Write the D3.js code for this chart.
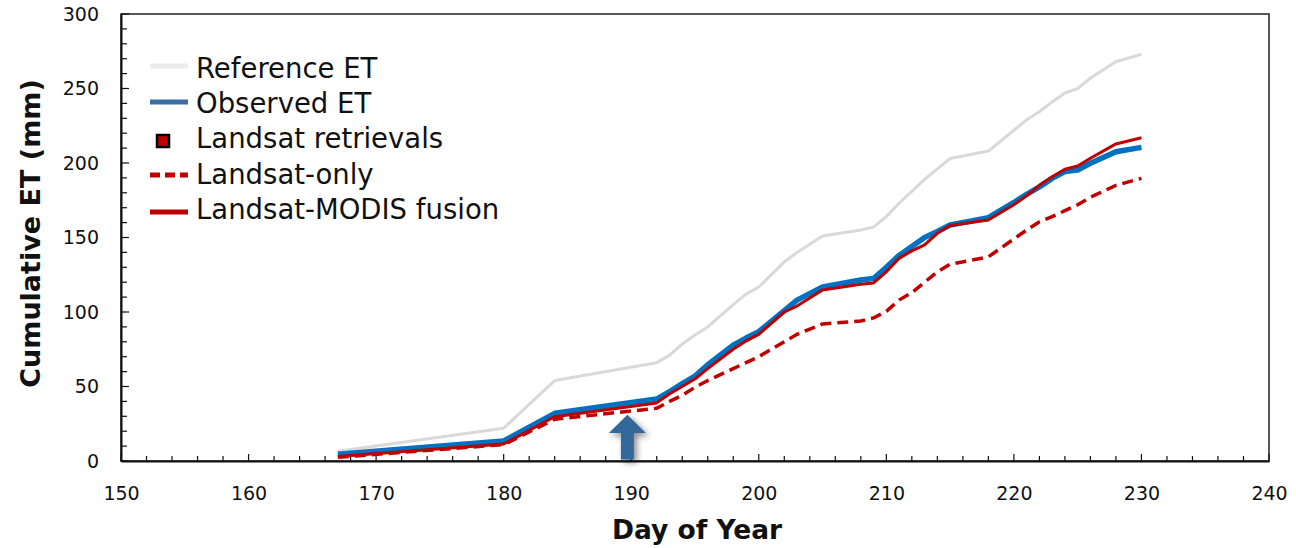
<!DOCTYPE html>
<html>
<head>
<meta charset="utf-8">
<script src="https://cdn.jsdelivr.net/npm/d3@7"></script>
<style>
  html, body { margin: 0; padding: 0; background: #fff; }
  svg { display: block; }
  text { font-family: "DejaVu Sans", sans-serif; }
</style>
</head>
<body>
<svg id="chart" width="1296" height="548"></svg>
<script>
// Day-of-year sample points
const days = [167, 180, 184, 192, 193, 194, 195, 196, 198, 199, 200, 202, 203, 205, 208, 209,
              210, 211, 212, 213, 214, 215, 218, 220, 221, 222, 223, 224, 225, 226, 228, 230];

// Cumulative ET (mm)
const referenceET = [6.5, 22, 54, 66, 71, 78.5, 84.6, 90, 105, 112, 116.8, 133.6, 140, 151, 155, 157,
                     164, 173, 181, 189, 196, 203, 208, 222, 229, 234.4, 241, 247, 250, 257, 268, 273];
const observedET  = [4.5, 13.4, 32, 41.6, 46.5, 52, 57, 64.6, 77.8, 82.5, 86.8, 101, 108, 116.8, 121.5, 122.5,
                     130, 138, 144, 150, 154, 158.4, 163.3, 173.5, 179, 184, 189.7, 194.2, 195.3, 199.8, 207.6, 210.5];
const landsatOnly = [2.5, 11, 28, 35.4, 40, 44, 49.5, 54, 62, 66, 70, 80, 85, 92, 94, 96,
                     100.5, 108, 113, 120, 127, 132, 137, 149, 155, 160.6, 164, 168, 172, 177, 185, 189.7];
const fusion      = [3, 11.4, 29.7, 39, 45, 50, 55, 62, 75, 80.5, 85, 100, 104, 114.8, 118.6, 119.5,
                     127, 136, 141, 145, 152.8, 158, 161.7, 172, 178, 185, 190.8, 195.8, 198, 203.2, 212.8, 217];

// Axis ranges and labels
const xDomain = [150, 240];
const yDomain = [0, 300];
const xTicks = [150, 160, 170, 180, 190, 200, 210, 220, 230, 240];
const yTicks = [0, 50, 100, 150, 200, 250, 300];
const xTitle = "Day of Year";
const yTitle = "Cumulative ET (mm)";

// Arrow marker location (day, ET tip)
const arrowDay = 189.7;
const arrowTip = 31;
const arrowHeadBase = 18.8;

const legendLabels = ["Reference ET", "Observed ET", "Landsat retrievals", "Landsat-only", "Landsat-MODIS fusion"];

const colors = { ref: "#d9d9d9", obs: "#0070c0", obsKey: "#3a6ea5", red: "#c00000" };

const svg = d3.select("#chart");
const m = { left: 121, right: 1269, top: 14, bottom: 461 };

const x = d3.scaleLinear().domain(xDomain).range([m.left, m.right]);
const y = d3.scaleLinear().domain(yDomain).range([m.bottom, m.top]);

// frame
svg.append("rect")
  .attr("x", m.left).attr("y", m.top)
  .attr("width", m.right - m.left).attr("height", m.bottom - m.top)
  .attr("fill", "none").attr("stroke", "#222").attr("stroke-width", 1.5);

// x minor ticks (every 2 days), drawn inward
const xMinor = d3.range(xDomain[0], xDomain[1] + 1, 2);
svg.append("g").selectAll("line").data(xMinor).join("line")
  .attr("x1", d => x(d)).attr("x2", d => x(d))
  .attr("y1", m.bottom).attr("y2", d => m.bottom - (d % 10 === 0 ? 7 : 5))
  .attr("stroke", "#111").attr("stroke-width", 1.2);

// y minor ticks (every 10 mm), drawn inward
const yMinor = d3.range(yDomain[0], yDomain[1] + 1, 10);
svg.append("g").selectAll("line").data(yMinor).join("line")
  .attr("x1", m.left).attr("x2", d => m.left + (d % 50 === 0 ? 8 : 6))
  .attr("y1", d => y(d)).attr("y2", d => y(d))
  .attr("stroke", "#111").attr("stroke-width", 1.2);

// axes with labels
const xAxis = d3.axisBottom(x).tickValues(xTicks).tickSize(0).tickPadding(26);
svg.append("g").attr("transform", `translate(0,${m.bottom})`).call(xAxis)
  .call(g => g.select(".domain").attr("stroke", "#111").attr("stroke-width", 2))
  .call(g => g.selectAll("text").attr("font-size", 19).attr("fill", "#111")
    .attr("font-family", "DejaVu Sans, sans-serif"));

const yAxis = d3.axisLeft(y).tickValues(yTicks).tickSize(0).tickPadding(22);
svg.append("g").attr("transform", `translate(${m.left},0)`).call(yAxis)
  .call(g => g.select(".domain").attr("stroke", "#111").attr("stroke-width", 2))
  .call(g => g.selectAll("text").attr("font-size", 19).attr("fill", "#111")
    .attr("font-family", "DejaVu Sans, sans-serif"));

// titles
svg.append("text")
  .attr("x", (m.left + m.right) / 2 + 2).attr("y", 539)
  .attr("text-anchor", "middle").attr("font-size", 26.5).attr("font-weight", "bold")
  .attr("fill", "#111").text(xTitle);
svg.append("text")
  .attr("transform", `translate(40,${(m.top + m.bottom) / 2 - 4}) rotate(-90)`)
  .attr("text-anchor", "middle").attr("font-size", 27).attr("font-weight", "bold")
  .attr("fill", "#111").text(yTitle);

// series lines
const line = vals => d3.line().x((d, i) => x(days[i])).y(d => y(d))(vals);

svg.append("path").attr("d", line(referenceET))
  .attr("fill", "none").attr("stroke", colors.ref).attr("stroke-width", 3).attr("stroke-linejoin", "round");
svg.append("path").attr("d", line(landsatOnly))
  .attr("fill", "none").attr("stroke", colors.red).attr("stroke-width", 3.5)
  .attr("stroke-dasharray", "11,6");
svg.append("path").attr("d", line(observedET))
  .attr("fill", "none").attr("stroke", colors.obs).attr("stroke-width", 5.5).attr("stroke-linejoin", "round");
svg.append("path").attr("d", line(fusion))
  .attr("fill", "none").attr("stroke", colors.red).attr("stroke-width", 3).attr("stroke-linejoin", "round");

// upward arrow with soft shadow
const defs = svg.append("defs");
const f = defs.append("filter").attr("id", "shadow").attr("x", "-50%").attr("y", "-50%")
  .attr("width", "200%").attr("height", "200%");
f.append("feDropShadow").attr("dx", 3).attr("dy", 3).attr("stdDeviation", 3)
  .attr("flood-color", "#000").attr("flood-opacity", 0.45);

const ax = x(arrowDay);
const headHalf = 18.5, shaftHalf = 6.5;
svg.append("path")
  .attr("d", `M${ax},${y(arrowTip)} L${ax + headHalf},${y(arrowHeadBase)} L${ax + shaftHalf},${y(arrowHeadBase)}
              L${ax + shaftHalf},${y(0) - 1.5} L${ax - shaftHalf},${y(0) - 1.5} L${ax - shaftHalf},${y(arrowHeadBase)}
              L${ax - headHalf},${y(arrowHeadBase)} Z`)
  .attr("fill", "#36679a").attr("filter", "url(#shadow)");

// legend
const lg = svg.append("g");
const rowY = [66, 102, 141, 175, 212];
const textY = [78, 113, 148, 184, 219];
const sx0 = 150, sx1 = 188;

lg.append("line").attr("x1", sx0).attr("x2", sx1).attr("y1", rowY[0]).attr("y2", rowY[0])
  .attr("stroke", "#ececec").attr("stroke-width", 5);
lg.append("line").attr("x1", sx0).attr("x2", sx1).attr("y1", rowY[1]).attr("y2", rowY[1])
  .attr("stroke", colors.obsKey).attr("stroke-width", 5);
lg.append("rect").attr("x", 157).attr("y", rowY[2] - 6).attr("width", 12).attr("height", 12)
  .attr("fill", colors.red).attr("stroke", "#000").attr("stroke-width", 2.5);
lg.append("line").attr("x1", sx0).attr("x2", sx1).attr("y1", rowY[3]).attr("y2", rowY[3])
  .attr("stroke", colors.red).attr("stroke-width", 5).attr("stroke-dasharray", "10,5");
lg.append("line").attr("x1", sx0).attr("x2", sx1).attr("y1", rowY[4]).attr("y2", rowY[4])
  .attr("stroke", colors.red).attr("stroke-width", 5);

lg.selectAll("text.lab").data(legendLabels).join("text")
  .attr("class", "lab")
  .attr("x", 196).attr("y", (d, i) => textY[i])
  .attr("font-size", 27.5).attr("fill", "#111").text(d => d);
</script>
</body>
</html>
